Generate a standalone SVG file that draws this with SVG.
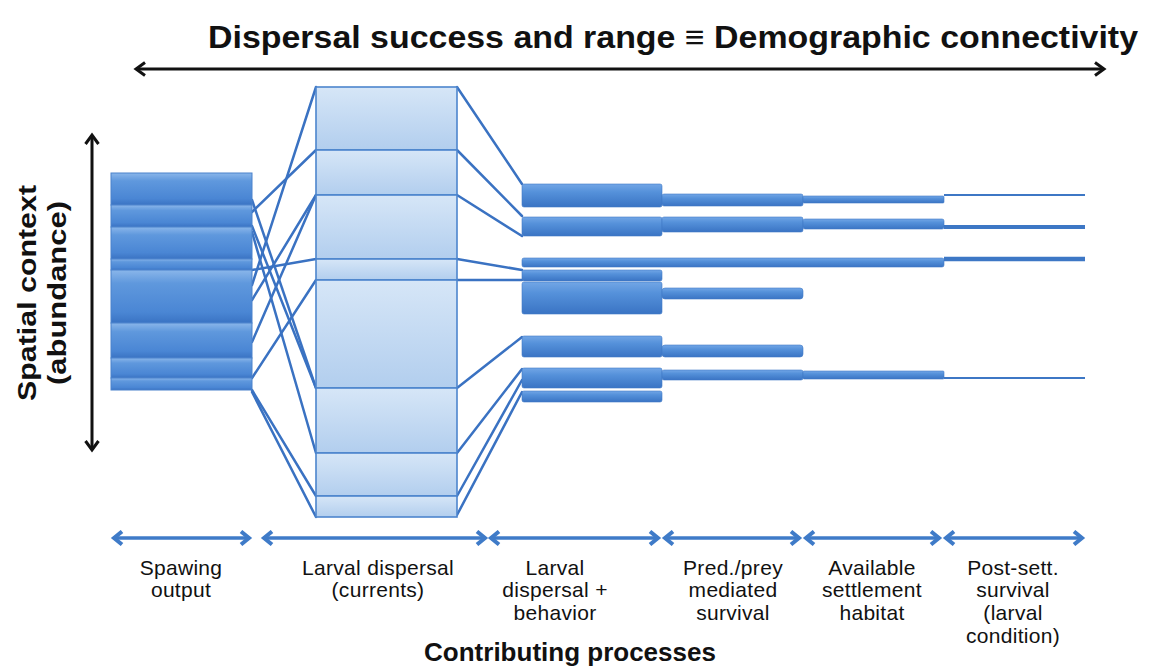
<svg xmlns="http://www.w3.org/2000/svg" width="1172" height="668" viewBox="0 0 1172 668">
<style>
.t{font-family:"Liberation Sans",Arial,sans-serif;fill:#111}
.lbl{font-size:21px;text-anchor:middle;letter-spacing:0.3px}
.b{font-weight:bold}
.ln{stroke:#3a72c2;stroke-width:2.5;fill:none;stroke-linecap:round}
.sp{fill:url(#gL);stroke:#4a82cc;stroke-width:1}
.mid{fill:url(#gM);stroke:#4d85cd;stroke-width:1.6}
.bar{fill:url(#gB);stroke:#3f78c6;stroke-width:0.6}
.barr{stroke:#3d77c5;fill:none}
.ax{stroke:#111;stroke-width:3;fill:none}
.bax{stroke:#3f7bc8;stroke-width:3.5;fill:none}
</style>
<defs>
<linearGradient id="gL" x1="0" y1="0" x2="0" y2="1">
<stop offset="0" stop-color="#8ab6ea"/>
<stop offset="0.25" stop-color="#5f98dd"/>
<stop offset="0.8" stop-color="#4a86d4"/>
<stop offset="1" stop-color="#3a73c3"/>
</linearGradient>
<linearGradient id="gM" x1="0" y1="0" x2="0" y2="1">
<stop offset="0" stop-color="#d6e6f7"/>
<stop offset="1" stop-color="#b2ceee"/>
</linearGradient>
<linearGradient id="gB" x1="0" y1="0" x2="0" y2="1">
<stop offset="0" stop-color="#72a6e6"/>
<stop offset="0.35" stop-color="#5591da"/>
<stop offset="1" stop-color="#3a74c4"/>
</linearGradient>
<marker id="ak" markerUnits="userSpaceOnUse" markerWidth="16" markerHeight="16" refX="12" refY="8" orient="auto-start-reverse">
<path d="M3,1.5 L12,8 L3,14.5" fill="none" stroke="#111" stroke-width="3"/>
</marker>
<marker id="ab" markerUnits="userSpaceOnUse" markerWidth="16" markerHeight="16" refX="12" refY="8" orient="auto-start-reverse">
<path d="M4,1.5 L12,8 L4,14.5" fill="none" stroke="#3f7bc8" stroke-width="4"/>
</marker>
</defs>
<rect width="1172" height="668" fill="#fff"/>

<g id="title">
<text class="t b" x="673" y="48" font-size="32" text-anchor="middle" textLength="930" lengthAdjust="spacingAndGlyphs">Dispersal success and range ≡ Demographic connectivity</text>
<line class="ax" x1="136" y1="69" x2="1104" y2="69" marker-start="url(#ak)" marker-end="url(#ak)"/>
</g>

<g id="yaxis">
<text class="t b" transform="translate(36,293) rotate(-90)" font-size="26" text-anchor="middle" textLength="216" lengthAdjust="spacingAndGlyphs">Spatial context</text>
<text class="t b" transform="translate(66,293) rotate(-90)" font-size="26" text-anchor="middle" textLength="184" lengthAdjust="spacingAndGlyphs">(abundance)</text>
<line class="ax" x1="92" y1="135" x2="92" y2="450" marker-start="url(#ak)" marker-end="url(#ak)"/>
</g>

<g id="connectors">
<line class="ln" x1="252" y1="285" x2="316" y2="87"/>
<line class="ln" x1="252" y1="212" x2="316" y2="150"/>
<line class="ln" x1="252" y1="300" x2="316" y2="195"/>
<line class="ln" x1="252" y1="342" x2="316" y2="195"/>
<line class="ln" x1="252" y1="270" x2="316" y2="259"/>
<line class="ln" x1="252" y1="378" x2="316" y2="280"/>
<line class="ln" x1="252" y1="200" x2="316" y2="388"/>
<line class="ln" x1="252" y1="226" x2="316" y2="388"/>
<line class="ln" x1="252" y1="232" x2="316" y2="453"/>
<line class="ln" x1="252" y1="390" x2="316" y2="496"/>
<line class="ln" x1="252" y1="392" x2="316" y2="517"/>
<line class="ln" x1="457" y1="87" x2="522" y2="184"/>
<line class="ln" x1="457" y1="150" x2="522" y2="216"/>
<line class="ln" x1="457" y1="195" x2="522" y2="236"/>
<line class="ln" x1="457" y1="259" x2="522" y2="270"/>
<line class="ln" x1="457" y1="280" x2="522" y2="280"/>
<line class="ln" x1="457" y1="388" x2="522" y2="337"/>
<line class="ln" x1="457" y1="453" x2="522" y2="369"/>
<line class="ln" x1="457" y1="496" x2="522" y2="380"/>
<line class="ln" x1="457" y1="515" x2="522" y2="392"/>
</g>

<g id="spawning">
<rect class="sp" x="111" y="173" width="141" height="32"/>
<rect class="sp" x="111" y="205" width="141" height="22"/>
<rect class="sp" x="111" y="227" width="141" height="32"/>
<rect class="sp" x="111" y="259" width="141" height="11"/>
<rect class="sp" x="111" y="270" width="141" height="53"/>
<rect class="sp" x="111" y="323" width="141" height="35"/>
<rect class="sp" x="111" y="358" width="141" height="20"/>
<rect class="sp" x="111" y="378" width="141" height="12"/>
</g>

<g id="larval-dispersal">
<rect class="mid" x="316" y="87" width="141" height="63"/>
<rect class="mid" x="316" y="150" width="141" height="45"/>
<rect class="mid" x="316" y="195" width="141" height="64"/>
<rect class="mid" x="316" y="259" width="141" height="21"/>
<rect class="mid" x="316" y="280" width="141" height="108"/>
<rect class="mid" x="316" y="388" width="141" height="65"/>
<rect class="mid" x="316" y="453" width="141" height="43"/>
<rect class="mid" x="316" y="496" width="141" height="21"/>
</g>

<g id="behavior">
<rect class="bar" x="522" y="184" width="140" height="23" rx="2"/>
<rect class="bar" x="522" y="217" width="140" height="19" rx="2"/>
<rect class="bar" x="522" y="270" width="140" height="11" rx="2"/>
<rect class="bar" x="522" y="282" width="140" height="32" rx="2"/>
<rect class="bar" x="522" y="336" width="140" height="21" rx="2"/>
<rect class="bar" x="522" y="368" width="140" height="20" rx="2"/>
<rect class="bar" x="522" y="391" width="140" height="11" rx="2"/>
</g>

<g id="predprey">
<rect class="bar" x="662" y="194" width="141" height="12" rx="2"/>
<rect class="bar" x="662" y="217" width="141" height="15" rx="2"/>
<rect class="bar" x="662" y="288" width="141" height="11" rx="3"/>
<rect class="bar" x="662" y="345" width="141" height="12" rx="3"/>
<rect class="bar" x="662" y="370" width="141" height="10" rx="2"/>
</g>

<g id="row3-long">
<rect class="bar" x="522" y="258" width="422" height="9" rx="2"/>
</g>

<g id="settlement">
<rect class="bar" x="803" y="196" width="141" height="7" rx="1"/>
<rect class="bar" x="803" y="219" width="141" height="10" rx="2"/>
<rect class="bar" x="803" y="371" width="141" height="8" rx="1"/>
</g>

<g id="postsett">
<line class="barr" x1="944" y1="195" x2="1085" y2="195" stroke-width="2"/>
<line class="barr" x1="944" y1="227" x2="1085" y2="227" stroke-width="4"/>
<line class="barr" x1="944" y1="259" x2="1085" y2="259" stroke-width="4.5"/>
<line class="barr" x1="944" y1="378" x2="1085" y2="378" stroke-width="2"/>
</g>

<g id="process-arrows">
<line class="bax" x1="114" y1="538" x2="249" y2="538" marker-start="url(#ab)" marker-end="url(#ab)"/>
<line class="bax" x1="264" y1="538" x2="485" y2="538" marker-start="url(#ab)" marker-end="url(#ab)"/>
<line class="bax" x1="491" y1="538" x2="658" y2="538" marker-start="url(#ab)" marker-end="url(#ab)"/>
<line class="bax" x1="665" y1="538" x2="799" y2="538" marker-start="url(#ab)" marker-end="url(#ab)"/>
<line class="bax" x1="806" y1="538" x2="939" y2="538" marker-start="url(#ab)" marker-end="url(#ab)"/>
<line class="bax" x1="946" y1="538" x2="1082" y2="538" marker-start="url(#ab)" marker-end="url(#ab)"/>
</g>

<g id="labels">
<text class="t lbl" x="181" y="575">Spawing</text>
<text class="t lbl" x="181" y="597">output</text>
<text class="t lbl" x="378" y="575">Larval dispersal</text>
<text class="t lbl" x="378" y="597">(currents)</text>
<text class="t lbl" x="555" y="575">Larval</text>
<text class="t lbl" x="555" y="597">dispersal +</text>
<text class="t lbl" x="555" y="620">behavior</text>
<text class="t lbl" x="733" y="575">Pred./prey</text>
<text class="t lbl" x="733" y="597">mediated</text>
<text class="t lbl" x="733" y="620">survival</text>
<text class="t lbl" x="872" y="575">Available</text>
<text class="t lbl" x="872" y="597">settlement</text>
<text class="t lbl" x="872" y="620">habitat</text>
<text class="t lbl" x="1013" y="575">Post-sett.</text>
<text class="t lbl" x="1013" y="597">survival</text>
<text class="t lbl" x="1013" y="620">(larval</text>
<text class="t lbl" x="1013" y="643">condition)</text>
<text class="t b" x="570" y="661" font-size="26" text-anchor="middle">Contributing processes</text>
</g>
</svg>
